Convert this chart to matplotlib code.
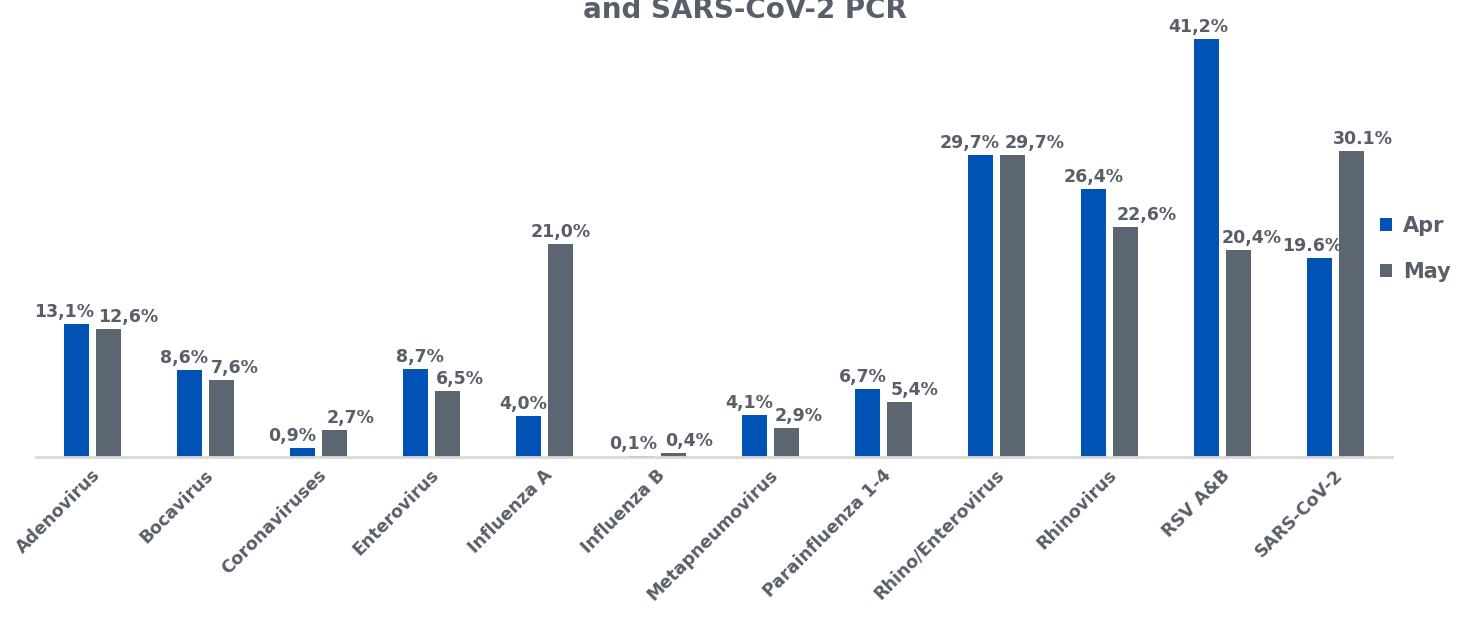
import numpy as np
import matplotlib.pyplot as plt
import matplotlib.transforms as mtransforms

# data
categories = ["Adenovirus", "Bocavirus", "Coronaviruses", "Enterovirus", "Influenza A",
              "Influenza B", "Metapneumovirus", "Parainfluenza 1-4", "Rhino/Enterovirus",
              "Rhinovirus", "RSV A&B", "SARS-CoV-2"]
apr = [13.1, 8.6, 0.9, 8.7, 4.0, 0.1, 4.1, 6.7, 29.7, 26.4, 41.2, 19.6]
may = [12.6, 7.6, 2.7, 6.5, 21.0, 0.4, 2.9, 5.4, 29.7, 22.6, 20.4, 30.1]
apr_labels = ["13,1%", "8,6%", "0,9%", "8,7%", "4,0%", "0,1%", "4,1%", "6,7%",
              "29,7%", "26,4%", "41,2%", "19.6%"]
may_labels = ["12,6%", "7,6%", "2,7%", "6,5%", "21,0%", "0,4%", "2,9%", "5,4%",
              "29,7%", "22,6%", "20,4%", "30.1%"]

# horizontal nudges of the value labels (pixels), like Excel spreads them
apr_nudge = [-13, -6, -11, 4, -6, -9, -6, -5, -11, 0, -8, -8]
may_nudge = [20, 13, 16, 13, 0, 16, 12, 15, 22, 21, 13, 12]

blue = "#0052B4"
grey = "#5B6670"
txt = "#595F69"

plt.rcParams['font.family'] = ['DejaVu Sans']

fig = plt.figure(figsize=(14.66, 6.17), dpi=100)
ax = fig.add_axes([0.0246, 0.2593, 0.9249, 0.7407])

x = np.arange(len(categories))
w = 0.22
off = 0.14
b1 = ax.bar(x - off, apr, w, color=blue, label="Apr")
b2 = ax.bar(x + off, may, w, color=grey, label="May")

for bars, labs, nud in ((b1, apr_labels, apr_nudge), (b2, may_labels, may_nudge)):
    for b, lab, n in zip(bars, labs, nud):
        ax.annotate(lab, (b.get_x() + b.get_width() / 2, b.get_height()),
                    xytext=(n, 3), textcoords="offset pixels",
                    ha="center", va="bottom", fontsize=12.5, fontweight="bold", color=txt)

ax.set_xlim(-0.5, len(categories) - 0.5)
ax.set_ylim(0, 45)
ax.set_xticks(x)
ax.set_xticklabels(categories, rotation=45, ha="right", va="center", rotation_mode="anchor",
                   fontsize=12.5, fontweight="bold", color=txt)
ax.tick_params(axis="x", length=0, pad=11)
shift = mtransforms.ScaledTranslation(5 / 100, 0, fig.dpi_scale_trans)
for lab in ax.get_xticklabels():
    lab.set_transform(lab.get_transform() + shift)
ax.set_yticks([])
for s in ("top", "right", "left"):
    ax.spines[s].set_visible(False)
ax.spines["bottom"].set_color("#D9D9D9")
ax.spines["bottom"].set_linewidth(2)

leg = ax.legend(loc="center left", bbox_to_anchor=(0.991, 0.455), frameon=False,
                borderpad=0, borderaxespad=0,
                fontsize=15, handlelength=0.6, handleheight=0.6, handletextpad=0.5,
                labelspacing=1.25)
for t in leg.get_texts():
    t.set_color(txt)
    t.set_fontweight("bold")

fig.text(0.508, 1 - 18 / 617, "and SARS-CoV-2 PCR", ha="center", va="baseline",
         fontsize=20, fontweight="bold", color=txt)

fig.savefig("out.png", dpi=100)
